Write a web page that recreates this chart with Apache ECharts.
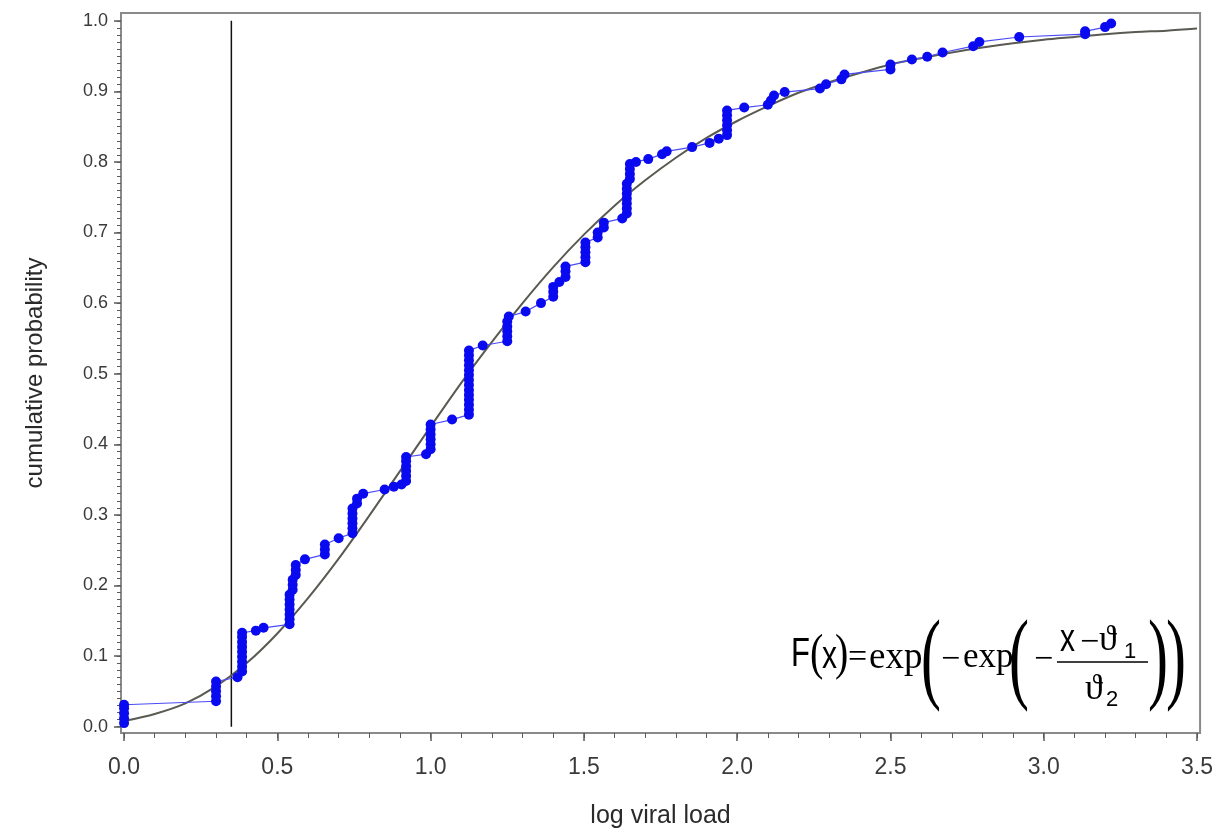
<!DOCTYPE html>
<html>
<head>
<meta charset="utf-8">
<script src="https://cdn.jsdelivr.net/npm/echarts@6/dist/echarts.min.js"></script>
<style>
html,body{margin:0;padding:0;background:#fff;}
#chart{width:1216px;height:835px;}
</style>
</head>
<body>
<div id="chart"></div>
<script>
// ---- data ----
// empirical cumulative distribution: [log viral load, cumulative probability]
const ecdfPoints = [
  [0,0.005],[0,0.012],[0,0.019],[0,0.026],[0,0.031],
  [0.30,0.036],[0.30,0.043],[0.30,0.050],[0.30,0.057],[0.30,0.064],
  [0.37,0.070],
  [0.385,0.078],[0.385,0.085],[0.385,0.092],[0.385,0.099],[0.385,0.106],[0.385,0.113],[0.385,0.120],[0.385,0.127],[0.385,0.133],
  [0.43,0.136],[0.455,0.140],
  [0.54,0.145],[0.54,0.152],[0.54,0.159],[0.54,0.166],[0.54,0.173],[0.54,0.180],[0.54,0.187],
  [0.55,0.194],[0.55,0.201],[0.55,0.208],
  [0.56,0.215],[0.56,0.222],[0.56,0.229],
  [0.59,0.237],
  [0.655,0.244],[0.655,0.251],[0.655,0.258],
  [0.70,0.267],
  [0.745,0.274],[0.745,0.281],[0.745,0.288],[0.745,0.295],[0.745,0.302],[0.745,0.309],
  [0.76,0.316],[0.76,0.323],
  [0.78,0.330],[0.85,0.336],[0.88,0.340],[0.905,0.343],
  [0.92,0.348],[0.92,0.355],[0.92,0.362],[0.92,0.369],[0.92,0.376],[0.92,0.382],
  [0.985,0.386],
  [1.0,0.393],[1.0,0.400],[1.0,0.407],[1.0,0.414],[1.0,0.421],[1.0,0.428],
  [1.07,0.435],
  [1.125,0.442],[1.125,0.449],[1.125,0.456],[1.125,0.463],[1.125,0.470],[1.125,0.477],[1.125,0.484],
  [1.125,0.491],[1.125,0.498],[1.125,0.505],[1.125,0.512],[1.125,0.519],[1.125,0.526],[1.125,0.533],
  [1.17,0.540],
  [1.25,0.546],[1.25,0.553],[1.25,0.560],[1.25,0.567],[1.25,0.574],
  [1.255,0.581],
  [1.31,0.588],[1.36,0.600],
  [1.40,0.609],[1.40,0.616],[1.40,0.623],
  [1.42,0.630],
  [1.44,0.637],[1.44,0.645],[1.44,0.652],
  [1.505,0.658],[1.505,0.665],[1.505,0.672],[1.505,0.679],[1.505,0.686],
  [1.545,0.693],[1.545,0.700],
  [1.565,0.707],[1.565,0.714],
  [1.625,0.720],
  [1.64,0.727],[1.64,0.734],[1.64,0.741],[1.64,0.748],[1.64,0.755],[1.64,0.762],[1.64,0.769],
  [1.65,0.776],[1.65,0.783],[1.65,0.790],[1.65,0.797],
  [1.67,0.800],[1.71,0.804],[1.755,0.811],[1.77,0.815],[1.853,0.821],[1.91,0.827],[1.94,0.833],
  [1.967,0.838],[1.967,0.845],[1.967,0.852],[1.967,0.859],[1.967,0.866],[1.967,0.873],
  [2.023,0.877],[2.10,0.881],[2.11,0.887],[2.12,0.894],[2.155,0.899],[2.27,0.904],[2.29,0.910],[2.34,0.917],[2.35,0.924],
  [2.50,0.931],[2.50,0.938],
  [2.57,0.945],[2.62,0.949],[2.67,0.955],[2.77,0.964],[2.79,0.970],[2.92,0.977],
  [3.135,0.981],[3.135,0.985],
  [3.20,0.991],[3.22,0.996]
];

// fitted Gumbel curve
const curveX = [0,0.1,0.2,0.3,0.4,0.5,0.6,0.7,0.8,0.9,1.0,1.1,1.2,1.3,1.4,1.5,1.6,1.7,1.8,1.9,
                2.0,2.1,2.2,2.3,2.4,2.5,2.6,2.7,2.8,2.9,3.0,3.1,3.2,3.3,3.4,3.5];
const curveY = [0.008,0.018,0.033,0.057,0.090,0.132,0.182,0.238,0.299,0.362,0.425,0.487,0.545,0.600,
                0.651,0.697,0.738,0.774,0.806,0.834,0.858,0.879,0.898,0.913,0.926,0.938,0.947,0.955,
                0.962,0.968,0.973,0.977,0.981,0.984,0.986,0.989];

// vertical reference line
const cutoffX = 0.35;
const cutoffY = [0, 1];

// tick labels
const xMajorTicks = [0,0.5,1.0,1.5,2.0,2.5,3.0,3.5];
const yMajorTicks = [0,0.1,0.2,0.3,0.4,0.5,0.6,0.7,0.8,0.9,1.0];
const xMinorTicks = [];
for (let i = 0; i <= 35; i++) xMinorTicks.push(+(i / 10).toFixed(2));
const yMinorTicks = [];
for (let i = 0; i <= 100; i++) yMinorTicks.push(+(i / 100).toFixed(2));

const axisTitleX = 'log viral load';
const axisTitleY = 'cumulative probability';

// ---- chart ----
const chart = echarts.init(document.getElementById('chart'), null, {renderer: 'canvas'});

const X_MIN = -0.01, X_MAX = 3.51, Y_MIN = -0.009, Y_MAX = 1.011;
const TICK_COLOR = '#5a5a5a';
const LABEL_COLOR = '#3a3a3a';
const SANS = "'Liberation Sans', Arial, sans-serif";
const SERIF = "'Liberation Serif', 'DejaVu Serif', serif";

function txt(text, x, y, size, family, extra) {
  return Object.assign({
    type: 'text', x: x, y: y, z: 100,
    style: {text: text, fontSize: size, fontFamily: family, fill: '#000', verticalAlign: 'middle', align: 'left'}
  }, extra || {});
}
function tall(text, x, y, size) {
  return txt(text, x, y, size, SANS, {scaleY: 1.3});
}
function bigParen(ch, x) {
  return {
    type: 'text', x: x, y: 664, z: 100, scaleY: 1.68,
    style: {text: ch, fontSize: 60, fontFamily: SERIF, fill: '#000', verticalAlign: 'middle', align: 'left'}
  };
}

const option = {
  backgroundColor: '#fff',
  animation: false,
  grid: {left: 121, right: 15, top: 13, bottom: 102, show: true, borderColor: '#8a8a8a', borderWidth: 2, backgroundColor: 'transparent'},
  xAxis: [
    {
      type: 'value', min: X_MIN, max: X_MAX, position: 'bottom',
      name: axisTitleX, nameLocation: 'middle', nameGap: 71,
      nameTextStyle: {fontSize: 25, fontFamily: SANS, color: '#2a2a2a'},
      axisLine: {show: false, onZero: false},
      splitLine: {show: false},
      axisTick: {show: true, customValues: xMajorTicks, length: 8, lineStyle: {color: TICK_COLOR, width: 1.5}},
      axisLabel: {show: true, customValues: xMajorTicks, margin: 23, fontSize: 23, fontFamily: SANS, color: LABEL_COLOR,
                  formatter: v => v.toFixed(1)}
    },
    {
      type: 'value', min: X_MIN, max: X_MAX, position: 'bottom',
      axisLine: {show: false, onZero: false},
      splitLine: {show: false},
      axisTick: {show: true, customValues: xMinorTicks, length: 5, lineStyle: {color: TICK_COLOR, width: 1}},
      axisLabel: {show: false}
    }
  ],
  yAxis: [
    {
      type: 'value', min: Y_MIN, max: Y_MAX, position: 'left',
      name: axisTitleY, nameLocation: 'middle', nameGap: 74, nameRotate: 90,
      nameTextStyle: {fontSize: 24, fontFamily: SANS, color: '#2a2a2a'},
      axisLine: {show: false, onZero: false},
      splitLine: {show: false},
      axisTick: {show: true, customValues: yMajorTicks, length: 7, lineStyle: {color: TICK_COLOR, width: 1.5}},
      axisLabel: {show: true, customValues: yMajorTicks, margin: 13, fontSize: 18, fontFamily: SANS, color: LABEL_COLOR,
                  formatter: v => v.toFixed(1)}
    },
    {
      type: 'value', min: Y_MIN, max: Y_MAX, position: 'left',
      axisLine: {show: false, onZero: false},
      splitLine: {show: false},
      axisTick: {show: true, customValues: yMinorTicks, length: 4, lineStyle: {color: TICK_COLOR, width: 1}},
      axisLabel: {show: false}
    }
  ],
  series: [
    {
      name: 'cutoff', type: 'line', xAxisIndex: 0, yAxisIndex: 0, z: 2,
      data: cutoffY.map(v => [cutoffX, v]),
      symbol: 'none', lineStyle: {color: '#111', width: 1.5}, silent: true
    },
    {
      name: 'fit', type: 'line', xAxisIndex: 0, yAxisIndex: 0, z: 3,
      data: curveX.map((x, i) => [x, curveY[i]]),
      smooth: 0.3, symbol: 'none', lineStyle: {color: '#5a5a52', width: 2}, silent: true
    },
    {
      name: 'ecdf', type: 'line', xAxisIndex: 0, yAxisIndex: 0, z: 4,
      data: ecdfPoints,
      symbol: 'circle', symbolSize: 10, showSymbol: true,
      itemStyle: {color: '#0a0af0'},
      lineStyle: {color: '#4b4bf5', width: 1.2},
      silent: true
    }
  ],
  graphic: [
    tall('F', 791, 655, 31),
    txt('(', 810, 656, 40, SERIF, {scaleY: 1.25}),
    tall('x', 822, 657, 30),
    txt(')', 835, 656, 40, SERIF, {scaleY: 1.25}),
    txt('=', 848, 658, 34, SERIF),
    txt('exp', 869, 658, 37, SERIF),
    bigParen('(', 921),
    txt('\u2212', 941, 660, 34, SERIF),
    txt('exp', 963, 658, 35, SERIF),
    bigParen('(', 1009),
    txt('\u2212', 1034, 660, 34, SERIF),
    tall('x', 1060, 640, 30),
    txt('\u2212', 1080, 643, 34, SERIF),
    txt('\u03D1', 1099, 641, 36, SERIF),
    txt('1', 1124, 652, 22, SANS),
    {type: 'line', z: 100, shape: {x1: 1057, y1: 662, x2: 1148, y2: 662}, style: {stroke: '#000', lineWidth: 1.5}},
    txt('\u03D1', 1085, 690, 36, SERIF),
    txt('2', 1106, 700, 22, SANS),
    bigParen(')', 1148),
    bigParen(')', 1166)
  ]
};
chart.setOption(option);
</script>
</body>
</html>
